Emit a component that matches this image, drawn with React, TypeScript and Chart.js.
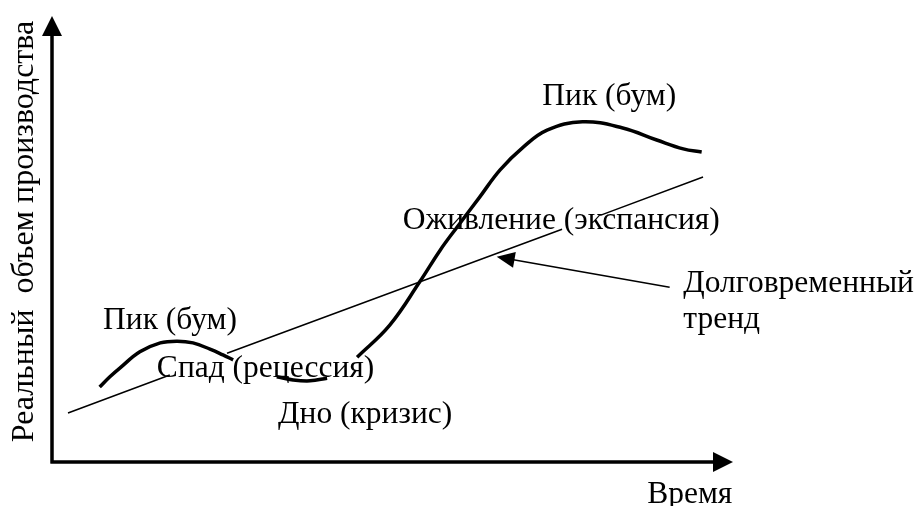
import React, { useEffect, useRef } from "react";
import { Chart, registerables } from "chart.js";

Chart.register(...registerables);

// Business cycle: time (0..100) vs real output (0..100); null = hidden under a label
const cycleTime = [7.0, 8.5, 10.0, 12.9, 15.9, 18.4, 20.7, 23.2, 25.1, 26.6, 30.0, 33.0, 35.4, 37.9, 40.4, 42.5, 44.8, 49.6, 54.0, 57.0, 59.5, 62.8, 65.8, 69.2, 72.7, 77.9, 83.8, 88.8, 92.7, 95.4];
const cycleOutput = [16.8, 19.1, 21.1, 24.7, 26.7, 27.1, 26.7, 25.3, 24.0, 22.9, null, 19.1, 18.4, 18.2, 18.8, null, 23.5, 30.7, 40.4, 47.5, 52.7, 59.4, 65.5, 70.6, 74.4, 76.3, 74.9, 72.2, 70.2, 69.5];

// Long-term trend line (segments broken where labels sit over it)
const trendTime = [2.35, 17.3, 21.0, 25.7, 74.9, 77.5, 80.5, 95.6];
const trendOutput = [11.0, 19.5, null, 24.4, 52.2, null, 55.3, 63.9];

// Pointer arrow from the "trend" label to the trend line
const pointerFrom = [90.7, 39.2];
const pointerTo = [65.3, 46.0];

// Phase labels (left edge, baseline) in data units
const labelTexts = ["Пик (бум)", "Спад (рецессия)", "Дно (кризис)", "Оживление (экспансия)", "Пик (бум)", "Долговременный", "тренд", "Время"];
const labelTime = [7.5, 15.4, 33.2, 51.5, 72.0, 92.7, 92.7, 87.4];
const labelOutput = [29.8, 19.1, 8.7, 52.2, 80.0, 38.1, 30.0, -9.2];

const yAxisTitle = "Реальный  объем производства";

const FONT = '31.5px "Liberation Serif", "Times New Roman", serif';
const TITLE_FONT = '32px "Liberation Serif", "Times New Roman", serif';

function toPoints(xs: number[], ys: (number | null)[]) {
  return xs.map((x, i) => ({ x, y: ys[i] }));
}

function arrowHead(ctx: CanvasRenderingContext2D, fx: number, fy: number, tx: number, ty: number, len: number, half: number) {
  const a = Math.atan2(ty - fy, tx - fx);
  const bx = tx - Math.cos(a) * len;
  const by = ty - Math.sin(a) * len;
  ctx.beginPath();
  ctx.moveTo(tx, ty);
  ctx.lineTo(bx + Math.sin(a) * half, by - Math.cos(a) * half);
  ctx.lineTo(bx - Math.sin(a) * half, by + Math.cos(a) * half);
  ctx.closePath();
  ctx.fill();
}

const decorPlugin = {
  id: "decor",
  afterDraw(chart: any) {
    const ctx: CanvasRenderingContext2D = chart.ctx;
    const xs = chart.scales.x;
    const ys = chart.scales.y;
    const X = (v: number) => xs.getPixelForValue(v);
    const Y = (v: number) => ys.getPixelForValue(v);
    ctx.save();
    ctx.fillStyle = "#000";
    ctx.strokeStyle = "#000";

    // axes with arrows
    const ox = X(0), oy = Y(0), ex = X(100), ey = Y(100);
    ctx.lineWidth = 3.5;
    ctx.lineCap = "butt";
    ctx.beginPath();
    ctx.moveTo(ox, oy + 1.5);
    ctx.lineTo(ox, ey + 18);
    ctx.moveTo(ox - 1.5, oy);
    ctx.lineTo(ex - 18, oy);
    ctx.stroke();
    arrowHead(ctx, ox, oy, ox, ey, 20, 10);
    arrowHead(ctx, ox, oy, ex, oy, 20, 10);

    // pointer arrow
    const fx = X(pointerFrom[0]), fy = Y(pointerFrom[1]);
    const tx = X(pointerTo[0]), ty = Y(pointerTo[1]);
    ctx.lineWidth = 1.5;
    ctx.beginPath();
    ctx.moveTo(fx, fy);
    const a = Math.atan2(ty - fy, tx - fx);
    ctx.lineTo(tx - Math.cos(a) * 14, ty - Math.sin(a) * 14);
    ctx.stroke();
    arrowHead(ctx, fx, fy, tx, ty, 18, 8);

    // labels
    ctx.font = FONT;
    ctx.textAlign = "left";
    ctx.textBaseline = "alphabetic";
    labelTexts.forEach((t, i) => {
      ctx.fillText(t, X(labelTime[i]), Y(labelOutput[i]));
    });

    // y axis title (rotated)
    ctx.font = TITLE_FONT;
    ctx.translate(33, (Y(100) + Y(0)) / 2 - 7.5);
    ctx.rotate(-Math.PI / 2);
    ctx.textAlign = "center";
    ctx.fillText(yAxisTitle, 0, 0);
    ctx.restore();
  },
};

export default function App() {
  const ref = useRef<HTMLCanvasElement>(null);
  useEffect(() => {
    if (!ref.current) return;
    const chart = new Chart(ref.current, {
      type: "scatter",
      data: {
        datasets: [
          {
            data: toPoints(cycleTime, cycleOutput) as any,
            showLine: true,
            borderColor: "#000",
            borderWidth: 3.5,
            pointRadius: 0,
            tension: 0.4,
            spanGaps: false,
          },
          {
            data: toPoints(trendTime, trendOutput) as any,
            showLine: true,
            borderColor: "#000",
            borderWidth: 1.5,
            pointRadius: 0,
            tension: 0,
            spanGaps: false,
          },
        ],
      },
      options: {
        animation: false,
        responsive: false,
        devicePixelRatio: 1,
        layout: { padding: { left: 52, right: 188, top: 16, bottom: 44 } },
        plugins: { legend: { display: false }, tooltip: { enabled: false } },
        scales: {
          x: { type: "linear", min: 0, max: 100, display: false },
          y: { type: "linear", min: 0, max: 100, display: false },
        },
        events: [],
      },
      plugins: [decorPlugin],
    });
    return () => chart.destroy();
  }, []);
  return (
    <div style={{ position: "absolute", left: 0, top: 0, width: 921, height: 506, background: "#fff" }}>
      <canvas ref={ref} width={921} height={506} />
    </div>
  );
}
